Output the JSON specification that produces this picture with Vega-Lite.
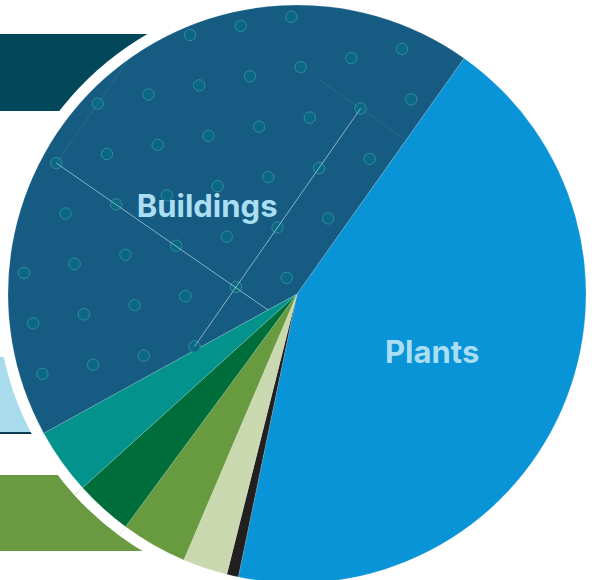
{
  "$schema": "https://vega.github.io/schema/vega-lite/v6.json",
  "width": 597,
  "height": 580,
  "autosize": "none",
  "padding": 0,
  "background": "#ffffff",
  "config": {"view": {"stroke": null}},
  "resolve": {"scale": {"color": "independent"}},
  "data": {
    "values": [
      {"sector": "Plants", "ord": 1, "share": 43.45, "label": "Plants"},
      {"sector": "Black", "ord": 2, "share": 0.65, "label": ""},
      {"sector": "Pale green", "ord": 3, "share": 2.5, "label": ""},
      {"sector": "Olive green", "ord": 4, "share": 3.7, "label": ""},
      {"sector": "Dark green", "ord": 5, "share": 3.2, "label": ""},
      {"sector": "Teal", "ord": 6, "share": 3.7, "label": ""},
      {"sector": "Buildings", "ord": 7, "share": 42.8, "label": "Buildings"}
    ]
  },
  "layer": [
    {
      "data": {
        "values": [
          {"band": "top", "x0": 0, "x1": 300, "y0": 34, "y1": 111},
          {"band": "light", "x0": 0, "x1": 300, "y0": 357, "y1": 432},
          {"band": "line", "x0": 0, "x1": 300, "y0": 432, "y1": 434},
          {"band": "green", "x0": 0, "x1": 300, "y0": 475, "y1": 551}
        ]
      },
      "mark": {"type": "rect"},
      "encoding": {
        "x": {"field": "x0", "type": "quantitative", "scale": {"domain": [0, 597], "nice": false, "zero": false}, "axis": null},
        "x2": {"field": "x1"},
        "y": {"field": "y0", "type": "quantitative", "scale": {"domain": [0, 580], "nice": false, "zero": false, "reverse": true}, "axis": null},
        "y2": {"field": "y1"},
        "color": {"field": "band", "type": "nominal", "scale": {"domain": ["top", "light", "line", "green"], "range": ["#03475b", "#a8dbeb", "#0d3b52", "#699a41"]}, "legend": null}
      }
    },
    {
      "mark": {"type": "arc", "radius": 300, "fill": "#ffffff"},
      "encoding": {
        "theta": {"field": "share", "type": "quantitative", "stack": true, "scale": {"range": [0.6161, 6.8993]}},
        "order": {"field": "ord"},
        "x": {"datum": 297, "type": "quantitative", "scale": {"domain": [0, 597], "nice": false, "zero": false}, "axis": null},
        "y": {"datum": 294, "type": "quantitative", "scale": {"domain": [0, 580], "nice": false, "zero": false, "reverse": true}, "axis": null}
      }
    },
    {
      "mark": {"type": "arc", "radius": 289, "stroke": "#ffffff", "strokeWidth": 0.4, "strokeOpacity": 0.4},
      "encoding": {
        "theta": {"field": "share", "type": "quantitative", "stack": true, "scale": {"range": [0.6161, 6.8993]}},
        "order": {"field": "ord"},
        "x": {"datum": 297, "type": "quantitative", "scale": {"domain": [0, 597], "nice": false, "zero": false}, "axis": null},
        "y": {"datum": 294, "type": "quantitative", "scale": {"domain": [0, 580], "nice": false, "zero": false, "reverse": true}, "axis": null},
        "color": {"field": "sector", "type": "nominal", "scale": {"domain": ["Plants", "Black", "Pale green", "Olive green", "Dark green", "Teal", "Buildings"], "range": ["#0894d6", "#231f20", "#c9d8ae", "#689a40", "#006e3a", "#04938c", "#155b82"]}, "legend": null}
      }
    },
    {
      "data": {
        "values": [
          {"px": 190, "py": 35}, {"px": 240.7, "py": 25.9}, {"px": 291.4, "py": 16.8},
          {"px": 97.8, "py": 103.6}, {"px": 148.5, "py": 94.5}, {"px": 199.2, "py": 85.4}, {"px": 249.9, "py": 76.3}, {"px": 300.6, "py": 67.2}, {"px": 351.3, "py": 58.1}, {"px": 402, "py": 49},
          {"px": 56.3, "py": 163.1}, {"px": 107, "py": 154}, {"px": 157.7, "py": 144.9}, {"px": 208.4, "py": 135.8}, {"px": 259.1, "py": 126.7}, {"px": 309.8, "py": 117.6}, {"px": 360.5, "py": 108.5}, {"px": 411.2, "py": 99.4},
          {"px": 65.5, "py": 213.5}, {"px": 116.2, "py": 204.4}, {"px": 166.9, "py": 195.3}, {"px": 217.6, "py": 186.2}, {"px": 268.3, "py": 177.1}, {"px": 319, "py": 168}, {"px": 369.7, "py": 158.9},
          {"px": 24, "py": 273}, {"px": 74.7, "py": 263.9}, {"px": 125.4, "py": 254.8}, {"px": 176.1, "py": 245.7}, {"px": 226.8, "py": 236.6}, {"px": 277.5, "py": 227.5}, {"px": 328.2, "py": 218.4},
          {"px": 33.2, "py": 323.4}, {"px": 83.9, "py": 314.3}, {"px": 134.6, "py": 305.2}, {"px": 185.3, "py": 296.1}, {"px": 236, "py": 287}, {"px": 286.7, "py": 277.9},
          {"px": 42.4, "py": 373.8}, {"px": 93.1, "py": 364.7}, {"px": 143.8, "py": 355.6}, {"px": 194.5, "py": 346.5}
        ]
      },
      "mark": {"type": "point", "shape": "circle", "filled": true, "size": 130, "fill": "#0a6882", "stroke": "#3c93a9", "strokeWidth": 0.8, "opacity": 1},
      "encoding": {
        "x": {"field": "px", "type": "quantitative", "scale": {"domain": [0, 597], "nice": false, "zero": false}, "axis": null},
        "y": {"field": "py", "type": "quantitative", "scale": {"domain": [0, 580], "nice": false, "zero": false, "reverse": true}, "axis": null}
      }
    },
    {
      "data": {
        "values": [
          {"ax": 56.3, "ay": 163.1, "bx": 268, "by": 310},
          {"ax": 360.5, "ay": 108.5, "bx": 194.5, "by": 346.5}
        ]
      },
      "mark": {"type": "rule", "color": "#d8ecf2", "strokeWidth": 0.8, "opacity": 0.75},
      "encoding": {
        "x": {"field": "ax", "type": "quantitative", "scale": {"domain": [0, 597], "nice": false, "zero": false}, "axis": null},
        "y": {"field": "ay", "type": "quantitative", "scale": {"domain": [0, 580], "nice": false, "zero": false, "reverse": true}, "axis": null},
        "x2": {"field": "bx"},
        "y2": {"field": "by"}
      }
    },
    {
      "data": {
        "values": [
          {"ax": 56.3, "ay": 163.1, "bx": 139.3, "by": 44.1},
          {"ax": 360.5, "ay": 108.5, "bx": 405, "by": 139.5},
          {"ax": 360.5, "ay": 108.5, "bx": 320, "by": 80.5}
        ]
      },
      "mark": {"type": "rule", "color": "#9cc8d8", "strokeWidth": 0.7, "opacity": 0.3, "strokeDash": [2, 1]},
      "encoding": {
        "x": {"field": "ax", "type": "quantitative", "scale": {"domain": [0, 597], "nice": false, "zero": false}, "axis": null},
        "y": {"field": "ay", "type": "quantitative", "scale": {"domain": [0, 580], "nice": false, "zero": false, "reverse": true}, "axis": null},
        "x2": {"field": "bx"},
        "y2": {"field": "by"}
      }
    },
    {
      "mark": {"type": "text", "radius": 126, "font": "Inter", "fontWeight": "bold", "fontSize": 31, "fill": "#a9def3", "align": "center", "baseline": "alphabetic", "dx": -6, "dy": 17},
      "encoding": {
        "theta": {"field": "share", "type": "quantitative", "stack": true, "scale": {"range": [0.6161, 6.8993]}},
        "order": {"field": "ord"},
        "x": {"datum": 297, "type": "quantitative", "scale": {"domain": [0, 597], "nice": false, "zero": false}, "axis": null},
        "y": {"datum": 294, "type": "quantitative", "scale": {"domain": [0, 580], "nice": false, "zero": false, "reverse": true}, "axis": null},
        "text": {"condition": {"test": "datum.sector === 'Buildings'", "field": "label"}, "value": ""}
      }
    },
    {
      "mark": {"type": "text", "radius": 147.4, "font": "Inter", "fontWeight": "bold", "fontSize": 31, "fill": "#a9def3", "align": "center", "baseline": "alphabetic", "dy": 10},
      "encoding": {
        "theta": {"field": "share", "type": "quantitative", "stack": true, "scale": {"range": [0.6161, 6.8993]}},
        "order": {"field": "ord"},
        "x": {"datum": 297, "type": "quantitative", "scale": {"domain": [0, 597], "nice": false, "zero": false}, "axis": null},
        "y": {"datum": 294, "type": "quantitative", "scale": {"domain": [0, 580], "nice": false, "zero": false, "reverse": true}, "axis": null},
        "text": {"condition": {"test": "datum.sector === 'Plants'", "field": "label"}, "value": ""}
      }
    }
  ]
}
